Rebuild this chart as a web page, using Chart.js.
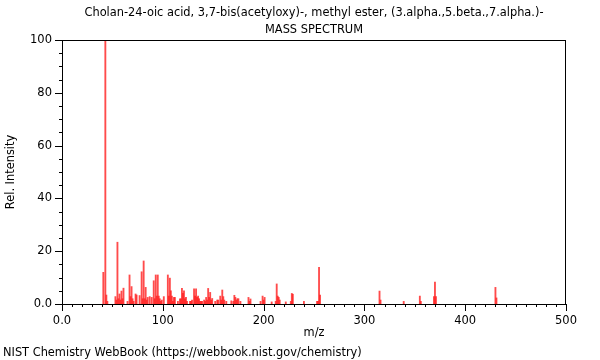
<!DOCTYPE html>
<html>
<head>
<meta charset="utf-8">
<script src="https://cdn.jsdelivr.net/npm/chart.js@4"></script>
<style>
  html, body { margin: 0; padding: 0; background: #fff; }
  #wrap { width: 600px; height: 360px; }
</style>
</head>
<body>
<div id="wrap"><canvas id="chart" width="600" height="360"></canvas></div>
<script>
// peaks
const mz = [41, 43, 44, 45, 53, 54, 55, 56, 57, 58, 59, 60, 61, 65, 67, 68, 69, 70, 71, 73, 74, 77,
  79, 80, 81, 82, 83, 84, 85, 87, 89, 91, 92, 93, 94, 95, 96, 97, 98, 99, 101, 105, 106, 107, 108,
  109, 110, 111, 112, 115, 117, 118, 119, 120, 121, 122, 123, 124, 127, 128, 129, 131, 132, 133, 134,
  135, 136, 137, 138, 139, 141, 142, 143, 144, 145, 146, 147, 148, 149, 152, 154, 155, 157, 158, 159,
  160, 161, 163, 168, 170, 171, 172, 173, 174, 175, 177, 185, 186, 187, 197, 199, 200, 201, 208, 212,
  213, 214, 215, 216, 222, 227, 228, 229, 240, 253, 254, 255, 256, 315, 316, 339, 355, 356, 369, 370,
  371, 430, 431];
const intensity = [12, 100, 3.4, 1, 2.8, 1.5, 23.4, 2, 3.8, 1.5, 4.9, 2, 6, 1, 11, 2.8, 6.6, 2, 1, 3.8, 3.4, 3.2,
  12.2, 2, 16.3, 2, 6.3, 1.5, 2.5, 2.8, 2.5, 8.8, 2, 11, 3, 11, 3, 2, 1, 1.5, 2.8, 11, 3, 9.8, 5,
  3, 1, 2.5, 2.5, 1, 2, 2, 5.9, 4, 5, 2, 2.5, 1, 1, 1, 1.5, 5.7, 3, 5.7, 2.5,
  3, 2, 1, 1, 1, 1.5, 1, 2.5, 1.5, 5.9, 2.5, 4.4, 1.5, 2.1, 1, 1.5, 1.5, 3, 1.5, 5.3,
  2.8, 1.5, 1, 1.2, 1, 3.3, 2.5, 1.5, 2, 2, 1, 2.5, 1, 1.9, 1, 3, 1.5, 2.5, 0.8, 1,
  7.6, 3, 2.5, 1.5, 0.8, 1, 4, 3.7, 1, 1, 1, 13.9, 3.4, 4.9, 1.5, 1, 3, 1, 2.8, 8.3,
  2.8, 6.3, 2.3];

const titleLines = ['Cholan-24-oic acid, 3,7-bis(acetyloxy)-, methyl ester, (3.alpha.,5.beta.,7.alpha.)-', 'MASS SPECTRUM'];
const footer = 'NIST Chemistry WebBook (https://webbook.nist.gov/chemistry)';
const fontFamily = "'DejaVu Sans', sans-serif";

// frame, tick marks, titles
const decor = {
  id: 'decor',
  afterDraw(chart) {
    let
      ctx = chart.ctx,
      area = chart.chartArea,
      xs = chart.scales.x,
      ys = chart.scales.y;

    ctx.save();
    ctx.strokeStyle = '#000';
    ctx.lineWidth = 1;
    ctx.strokeRect(area.left + 0.5, area.top + 0.5, area.right - area.left - 1, area.bottom - area.top);

    ctx.beginPath();
    for (let v = 0; v <= 500; v += 10) {
      let px = Math.round(xs.getPixelForValue(v)) + 0.5,
        len = v % 100 === 0 ? 7 : 3;
      ctx.moveTo(px, area.bottom);
      ctx.lineTo(px, area.bottom + len);
    }
    for (let v = 0; v <= 100; v += 5) {
      let py = Math.round(ys.getPixelForValue(v)) + 0.5,
        len = v % 20 === 0 ? 7 : 3;
      ctx.moveTo(area.left, py);
      ctx.lineTo(area.left - len, py);
    }
    ctx.stroke();

    ctx.fillStyle = '#000';
    ctx.font = '11.4px ' + fontFamily;
    ctx.textAlign = 'center';
    ctx.textBaseline = 'middle';
    let cx = (area.left + area.right) / 2;
    ctx.fillText(titleLines[0], cx, 13);
    ctx.fillText(titleLines[1], cx, 30);
    ctx.textAlign = 'left';
    ctx.fillText(footer, 3, 353);
    ctx.restore();
  }
};

new Chart(document.getElementById('chart').getContext('2d'), {
  type: 'bar',
  data: {
    datasets: [{
      data: mz.map((m, i) => ({ x: m, y: intensity[i] })),
      backgroundColor: 'rgba(255, 30, 30, 0.8)',
      barThickness: 1.2,
      borderWidth: 0
    }]
  },
  options: {
    responsive: false,
    animation: false,
    layout: { padding: { left: 0, right: 34, top: 40, bottom: 16 } },
    plugins: {
      legend: { display: false },
      tooltip: { enabled: false }
    },
    scales: {
      x: {
        type: 'linear',
        offset: false,
        min: 0,
        max: 500,
        grid: { display: false, drawTicks: false, offset: false },
        border: { display: false },
        ticks: {
          stepSize: 100,
          padding: 10,
          color: '#000',
          font: { family: fontFamily, size: 11.5 },
          maxRotation: 0,
          callback: v => v === 0 ? '0.0' : String(v)
        },
        title: { display: true, text: 'm/z', color: '#000', font: { family: fontFamily, size: 11.4 } },
        afterFit: s => { s.height = 40; }
      },
      y: {
        min: 0,
        max: 100,
        grid: { display: false, drawTicks: false },
        border: { display: false },
        ticks: {
          stepSize: 20,
          padding: 10,
          color: '#000',
          font: { family: fontFamily, size: 11.5 },
          callback: v => v === 0 ? '0.0' : String(v)
        },
        title: { display: true, text: 'Rel. Intensity', color: '#000', font: { family: fontFamily, size: 11.4 } },
        afterFit: s => { s.width = 62; }
      }
    }
  },
  plugins: [decor]
});
</script>
</body>
</html>
